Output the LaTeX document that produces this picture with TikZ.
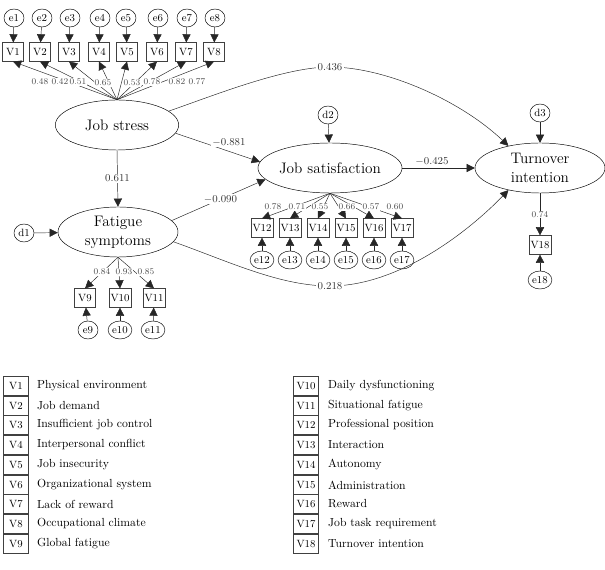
\documentclass[tikz,border=0pt]{standalone}
\usepackage{tikz}
\usetikzlibrary{shapes.geometric,arrows.meta}
\tikzset{
  latent/.style  = { draw, ellipse, minimum width=3.7cm, minimum height=1.5cm, align=center, font=\fontsize{13}{16}\selectfont, inner sep=0pt },
  obs/.style     = { draw=black!75, rectangle, minimum width=0.62cm, minimum height=0.56cm, inner sep=1.5pt, font=\small },
  legkey/.style  = { obs, minimum width=0.75cm, minimum height=0.56cm, font=\small },
  err/.style     = { draw, ellipse, minimum width=0.6cm, minimum height=0.54cm, inner sep=0.5pt, font=\small },
  effect/.style  = { -{Triangle[length=7pt,width=7pt]}, black!85 },
  coef/.style    = { fill=white, font=\small, inner sep=1pt, text=black!80 },
  load/.style    = { fill=white, font=\fontsize{7.5}{8}\selectfont, inner sep=0.5pt, text=black!70 },
  legtext/.style = { anchor=west, font=\normalsize }
}
\begin{document}
\begin{tikzpicture}[x=0.03cm, y=-0.03cm]
  \useasboundingbox (0,0) rectangle (605,570);
  % Draw latent variables
  \node[latent] (jstr) at (117,125) {Job stress};
  \node[latent, minimum width=3.6cm] (fat) at (118,232) {Fatigue\\symptoms};
  \node[latent, minimum width=3.9cm] (jsat) at (330,168) {Job satisfaction};
  \node[latent, minimum width=3.9cm] (turn) at (540,168) {Turnover\\intention};
  % Disturbances
  \node[err] (d1) at (24,233) {d1};
  \node[err] (d2) at (328,115) {d2};
  \node[err] (d3) at (540,113) {d3};
  \draw[effect] (d1) -- (fat);
  \draw[effect] (d2) -- (jsat);
  \draw[effect] (d3) -- (turn);
  % Job stress indicators
  \node[obs] (v1) at (13,52) {V1};
  \node[obs] (v2) at (40,52) {V2};
  \node[obs] (v3) at (69,52) {V3};
  \node[obs] (v4) at (99,52) {V4};
  \node[obs] (v5) at (127,52) {V5};
  \node[obs] (v6) at (157,52) {V6};
  \node[obs] (v7) at (186,52) {V7};
  \node[obs] (v8) at (214,52) {V8};
  \node[err] (e1) at (14,18) {e1};
  \node[err] (e2) at (42,18) {e2};
  \node[err] (e3) at (70,18) {e3};
  \node[err] (e4) at (100,18) {e4};
  \node[err] (e5) at (126,18) {e5};
  \node[err] (e6) at (158,18) {e6};
  \node[err] (e7) at (187,18) {e7};
  \node[err] (e8) at (215,18) {e8};
  \draw[effect] (e1) -- (v1);
  \draw[effect] (e2) -- (v2);
  \draw[effect] (e3) -- (v3);
  \draw[effect] (e4) -- (v4);
  \draw[effect] (e5) -- (v5);
  \draw[effect] (e6) -- (v6);
  \draw[effect] (e7) -- (v7);
  \draw[effect] (e8) -- (v8);
  \draw[effect] (jstr.north) -- (v1.south);
  \draw[effect] (jstr.north) -- (v2.south);
  \draw[effect] (jstr.north) -- (v3.south);
  \draw[effect] (jstr.north) -- (v4.south);
  \draw[effect] (jstr.north) -- (v5.south);
  \draw[effect] (jstr.north) -- (v6.south);
  \draw[effect] (jstr.north) -- (v7.south);
  \draw[effect] (jstr.north) -- (v8.south);
  \node[load] at (40,82) {0.48};
  \node[load] at (60,82) {0.42};
  \node[load] at (78,82) {0.51};
  \node[load] at (103,83) {0.65};
  \node[load] at (132,83) {0.53};
  \node[load] at (152,82) {0.78};
  \node[load] at (177,82) {0.82};
  \node[load] at (197,82) {0.77};
  % Fatigue indicators
  \node[obs] (v9) at (85,298) {V9};
  \node[obs] (v10) at (120,298) {V10};
  \node[obs] (v11) at (154,298) {V11};
  \node[err] (e9) at (88,330) {e9};
  \node[err] (e10) at (120,330) {e10};
  \node[err] (e11) at (153,330) {e11};
  \draw[effect] (e9) -- (v9);
  \draw[effect] (e10) -- (v10);
  \draw[effect] (e11) -- (v11);
  \draw[effect] (fat.south) -- (v9.north);
  \draw[effect] (fat.south) -- (v10.north);
  \draw[effect] (fat.south) -- (v11.north);
  \node[load] at (102,272) {0.84};
  \node[load] at (124,272) {0.93};
  \node[load] at (146,272) {0.85};
  % Job satisfaction indicators
  \node[obs] (v12) at (262,228) {V12};
  \node[obs] (v13) at (290,228) {V13};
  \node[obs] (v14) at (318,228) {V14};
  \node[obs] (v15) at (346,228) {V15};
  \node[obs] (v16) at (374,228) {V16};
  \node[obs] (v17) at (402,228) {V17};
  \node[err] (e12) at (262,260) {e12};
  \node[err] (e13) at (290,260) {e13};
  \node[err] (e14) at (318,260) {e14};
  \node[err] (e15) at (346,260) {e15};
  \node[err] (e16) at (374,260) {e16};
  \node[err] (e17) at (402,260) {e17};
  \draw[effect] (e12) -- (v12);
  \draw[effect] (e13) -- (v13);
  \draw[effect] (e14) -- (v14);
  \draw[effect] (e15) -- (v15);
  \draw[effect] (e16) -- (v16);
  \draw[effect] (e17) -- (v17);
  \draw[effect] (jsat.south) -- (v12.north);
  \draw[effect] (jsat.south) -- (v13.north);
  \draw[effect] (jsat.south) -- (v14.north);
  \draw[effect] (jsat.south) -- (v15.north);
  \draw[effect] (jsat.south) -- (v16.north);
  \draw[effect] (jsat.south) -- (v17.north);
  \node[load] at (273,207) {0.78};
  \node[load] at (297,207) {0.71};
  \node[load] at (320,207) {0.55};
  \node[load] at (347,207) {0.66};
  \node[load] at (371,207) {0.57};
  \node[load] at (395,207) {0.60};
  % Turnover indicator
  \node[obs] (v18) at (540,245) {V18};
  \node[err] (e18) at (540,280) {e18};
  \draw[effect] (e18) -- (v18);
  \draw[effect] (turn.south) -- node[load] {0.74} (v18.north);
  % Draw structural paths
  \draw[effect] (jstr.south) -- node[coef] {0.611} (fat.north);
  \draw[effect] (jstr.-8) -- (jsat.175);
  \node[coef] at (229,142) {$-$0.881};
  \draw[effect] (fat.12) -- node[coef, pos=0.52] {$-$0.090} (jsat.190);
  \draw[effect] (jsat.east) -- node[coef, above=1pt, pos=0.41] {$-$0.425} (turn.west);
  \draw[effect] (jstr.15) .. controls (215,95) and (285,67) .. (330,67) node[coef] {0.436}
    .. controls (385,67) and (460,100) .. (turn.145);
  \draw[effect] (fat.-10) .. controls (230,262) and (280,286) .. (330,286) node[coef] {0.218}
    .. controls (400,286) and (470,230) .. (turn.-145);
  % Draw legend
  \node[legkey] (lv1) at (16,386) {V1};
  \node[legkey] (lv2) at (16,406) {V2};
  \node[legkey] (lv3) at (16,425) {V3};
  \node[legkey] (lv4) at (16,445) {V4};
  \node[legkey] (lv5) at (16,465) {V5};
  \node[legkey] (lv6) at (16,485) {V6};
  \node[legkey] (lv7) at (16,504) {V7};
  \node[legkey] (lv8) at (16,524) {V8};
  \node[legkey] (lv9) at (16,544) {V9};
  \node[legtext] (lt1) at (33,386) {Physical environment};
  \node[legtext] (lt2) at (33,406) {Job demand};
  \node[legtext] (lt3) at (33,425) {Insufficient job control};
  \node[legtext] (lt4) at (33,445) {Interpersonal conflict};
  \node[legtext] (lt5) at (33,465) {Job insecurity};
  \node[legtext] (lt6) at (33,485) {Organizational system};
  \node[legtext] (lt7) at (33,504) {Lack of reward};
  \node[legtext] (lt8) at (33,524) {Occupational climate};
  \node[legtext] (lt9) at (33,544) {Global fatigue};
  \node[legkey] (lv10) at (306,386) {V10};
  \node[legkey] (lv11) at (306,406) {V11};
  \node[legkey] (lv12) at (306,425) {V12};
  \node[legkey] (lv13) at (306,445) {V13};
  \node[legkey] (lv14) at (306,465) {V14};
  \node[legkey] (lv15) at (306,485) {V15};
  \node[legkey] (lv16) at (306,504) {V16};
  \node[legkey] (lv17) at (306,524) {V17};
  \node[legkey] (lv18) at (306,544) {V18};
  \node[legtext] (lt10) at (324,386) {Daily dysfunctioning};
  \node[legtext] (lt11) at (324,406) {Situational fatigue};
  \node[legtext] (lt12) at (324,425) {Professional position};
  \node[legtext] (lt13) at (324,445) {Interaction};
  \node[legtext] (lt14) at (324,465) {Autonomy};
  \node[legtext] (lt15) at (324,485) {Administration};
  \node[legtext] (lt16) at (324,504) {Reward};
  \node[legtext] (lt17) at (324,524) {Job task requirement};
  \node[legtext] (lt18) at (324,544) {Turnover intention};
\end{tikzpicture}
\end{document}
